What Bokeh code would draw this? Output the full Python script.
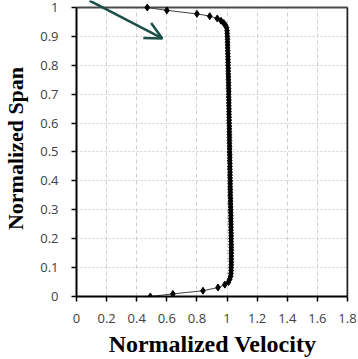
from bokeh.plotting import figure
from bokeh.models import Range1d, FixedTicker, Arrow, OpenHead, Span
from bokeh.embed import file_html
from bokeh.resources import INLINE

# bottom boundary layer (near span 0)
bottom_vel = [0.49, 0.64, 0.84, 0.94, 0.985, 1.010, 1.018]
bottom_span = [0.000, 0.009, 0.020, 0.031, 0.041, 0.050, 0.060]

# core region
core_span = [0.07, 0.08, 0.09, 0.10, 0.11, 0.12, 0.13, 0.14, 0.15, 0.16,
             0.17, 0.18, 0.19, 0.20, 0.21, 0.22, 0.23, 0.24, 0.25, 0.26,
             0.27, 0.28, 0.29, 0.30, 0.31, 0.32, 0.33, 0.34, 0.35, 0.36,
             0.37, 0.38, 0.39, 0.40, 0.41, 0.42, 0.43, 0.44, 0.45, 0.46,
             0.47, 0.48, 0.49, 0.50, 0.51, 0.52, 0.53, 0.54, 0.55, 0.56,
             0.57, 0.58, 0.59, 0.60, 0.61, 0.62, 0.63, 0.64, 0.65, 0.66,
             0.67, 0.68, 0.69, 0.70, 0.71, 0.72, 0.73, 0.74, 0.75, 0.76,
             0.77, 0.78, 0.79, 0.80, 0.81, 0.82, 0.83, 0.84, 0.85, 0.86,
             0.87, 0.88, 0.89, 0.90, 0.91, 0.92]
core_vel = [1.024, 1.026, 1.027, 1.027, 1.028, 1.028, 1.028, 1.028, 1.028, 1.028,
            1.028, 1.028, 1.027, 1.027, 1.027, 1.027, 1.026, 1.026, 1.026, 1.025,
            1.025, 1.025, 1.024, 1.024, 1.024, 1.023, 1.023, 1.023, 1.022, 1.022,
            1.022, 1.021, 1.021, 1.021, 1.020, 1.020, 1.020, 1.019, 1.019, 1.019,
            1.018, 1.018, 1.018, 1.017, 1.017, 1.017, 1.016, 1.016, 1.016, 1.016,
            1.015, 1.015, 1.015, 1.014, 1.014, 1.014, 1.013, 1.013, 1.013, 1.012,
            1.012, 1.012, 1.011, 1.011, 1.011, 1.010, 1.010, 1.010, 1.009, 1.009,
            1.008, 1.008, 1.008, 1.007, 1.007, 1.006, 1.006, 1.005, 1.005, 1.004,
            1.004, 1.003, 1.003, 1.002, 1.001, 1.000]

# top boundary layer (near span 1)
top_span = [0.930, 0.938, 0.946, 0.954, 0.962, 0.970, 0.978, 0.990, 1.000]
top_vel = [0.997, 0.990, 0.978, 0.960, 0.935, 0.885, 0.800, 0.600, 0.470]

velocity = bottom_vel + core_vel + top_vel
span = bottom_span + core_span + top_span

x_ticks = [0, 0.2, 0.4, 0.6, 0.8, 1.0, 1.2, 1.4, 1.6, 1.8]
x_tick_labels = {0: "0", 0.2: "0.2", 0.4: "0.4", 0.6: "0.6", 0.8: "0.8",
                 1.0: "1", 1.2: "1.2", 1.4: "1.4", 1.6: "1.6", 1.8: "1.8"}
y_ticks = [0, 0.1, 0.2, 0.3, 0.4, 0.5, 0.6, 0.7, 0.8, 0.9, 1.0]
y_tick_labels = {0: "0", 0.1: "0.1", 0.2: "0.2", 0.3: "0.3", 0.4: "0.4", 0.5: "0.5",
                 0.6: "0.6", 0.7: "0.7", 0.8: "0.8", 0.9: "0.9", 1.0: "1"}

X_MIN, X_MAX = 0.0, 1.8
Y_MIN, Y_MAX = 0.0, 1.0

# annotation arrow (data coordinates); its tail reaches above the plot box
arrow_start = (0.086, 1.024)
arrow_end = (0.57, 0.893)

# a little headroom above the box so the arrow tail is visible
p = figure(width=358, height=359, output_backend="svg", toolbar_location=None,
           x_range=Range1d(X_MIN, 1.8066), y_range=Range1d(Y_MIN, 1.0242),
           min_border_left=74, min_border_right=12, min_border_top=0, min_border_bottom=63,
           frame_width=272, frame_height=296)
p.background_fill_color = "white"
p.border_fill_color = "white"
p.outline_line_color = None

for ax in (p.xaxis[0], p.yaxis[0]):
    ax.axis_line_color = "black"
    ax.axis_line_width = 2
    ax.major_tick_line_color = "black"
    ax.major_tick_line_width = 1.5
    ax.major_tick_out = 5
    ax.major_tick_in = 0
    ax.minor_tick_out = 0
    ax.minor_tick_in = 0
    ax.major_label_text_font = "Open Sans"
    ax.major_label_text_font_size = "13px"
    ax.major_label_text_color = "#404040"
    ax.axis_label_text_font = "Liberation Serif"
    ax.axis_label_text_font_style = "bold"
    ax.axis_label_text_color = "black"

p.xaxis.bounds = (X_MIN, X_MAX)
p.yaxis.bounds = (Y_MIN, Y_MAX)
p.xaxis.axis_label_text_font_size = "24px"
p.yaxis.axis_label_text_font_size = "22px"
p.xaxis.ticker = FixedTicker(ticks=x_ticks)
p.xaxis.major_label_overrides = x_tick_labels
p.yaxis.ticker = FixedTicker(ticks=y_ticks)
p.yaxis.major_label_overrides = y_tick_labels
p.xaxis.axis_label = "Normalized Velocity"
p.yaxis.axis_label = "Normalized Span"
p.xaxis.major_label_standoff = 12
p.yaxis.major_label_standoff = 13
p.xaxis.axis_label_standoff = 5
p.yaxis.axis_label_standoff = 9

p.xgrid.grid_line_color = "#d0d0d0"
p.xgrid.grid_line_dash = "4 3"
p.xgrid.grid_line_width = 1
p.ygrid.grid_line_color = "#d0d0d0"
p.ygrid.grid_line_dash = "2 2"
p.ygrid.grid_line_width = 1

# white mask over the headroom strip (hides grid stubs)
p.quad(left=[X_MIN], right=[1.8066], bottom=[Y_MAX], top=[1.0242],
       fill_color="white", line_color=None)

# plot box top and right edges
p.segment(x0=[X_MIN], y0=[Y_MAX], x1=[X_MAX], y1=[Y_MAX], line_color="#4a4a4a", line_width=2)
p.segment(x0=[X_MAX], y0=[Y_MIN], x1=[X_MAX], y1=[Y_MAX], line_color="#222222", line_width=2)

p.line(velocity, span, line_color="#404040", line_width=1)
p.scatter(velocity, span, marker="diamond", size=7, fill_color="black", line_color="black")

arr = Arrow(x_start=arrow_start[0], y_start=arrow_start[1], x_end=arrow_end[0], y_end=arrow_end[1],
            line_color="#1b4f48", line_width=2.5,
            end=OpenHead(size=17, line_color="#1b4f48", line_width=2.5))
p.add_layout(arr)

open("out.html", "w").write(file_html(p, INLINE))
